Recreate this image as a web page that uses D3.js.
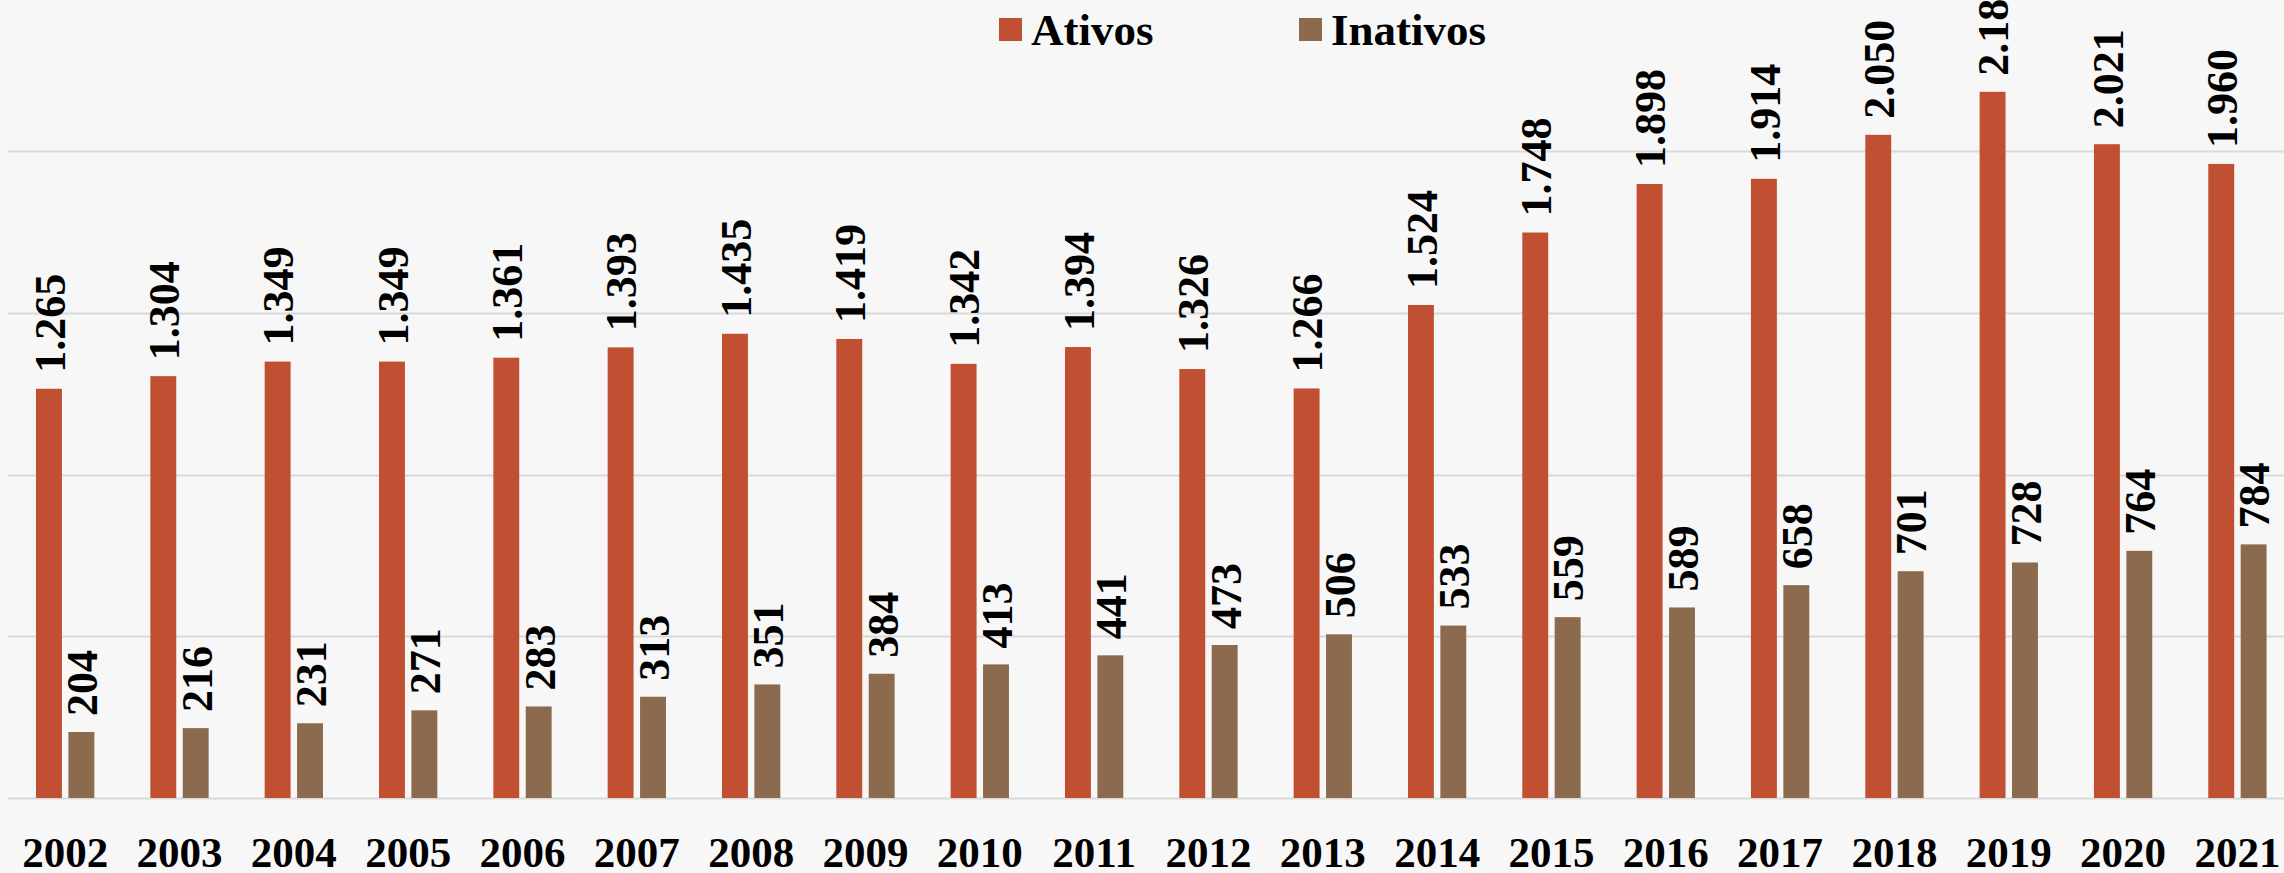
<!DOCTYPE html>
<html>
<head>
<meta charset="utf-8">
<script src="https://cdn.jsdelivr.net/npm/d3@7"></script>
<style>
  html, body { margin: 0; padding: 0; background: #f7f7f7; }
  svg { display: block; font-family: "Liberation Serif", "Times New Roman", serif; }
</style>
</head>
<body>
<svg width="2284" height="873"></svg>
<script>
var years = ["2002","2003","2004","2005","2006","2007","2008","2009","2010","2011",
             "2012","2013","2014","2015","2016","2017","2018","2019","2020","2021"];
var ativos = [1265,1304,1349,1349,1361,1393,1435,1419,1342,1394,
              1326,1266,1524,1748,1898,1914,2050,2183,2021,1960];
var inativos = [204,216,231,271,283,313,351,384,413,441,
                473,506,533,559,589,658,701,728,764,784];
var seriesNames = ["Ativos", "Inativos"];
var gridTicks = [0, 500, 1000, 1500, 2000];

var svg = d3.select("svg"),
    width = +svg.attr("width"),
    height = +svg.attr("height");

var color = d3.scaleOrdinal()
    .domain(seriesNames)
    .range(["#c14f31", "#8c6a4e"]);

// pt-BR style thousands: 1.265
var fmt = d3.formatLocale({decimal: ",", thousands: ".", grouping: [3], currency: ["R$", ""]}).format(",d");

var x = d3.scaleBand()
    .domain(years)
    .range([8, 2294.6])
    .paddingInner(0.49)
    .paddingOuter(0.245);

var xs = d3.scaleBand()
    .domain(seriesNames)
    .range([0, x.bandwidth()])
    .paddingInner(0.2);

var y = d3.scaleLinear()
    .domain([0, 2000])
    .range([798, 151]);

svg.append("rect")
    .attr("width", width)
    .attr("height", height)
    .attr("fill", "#f7f7f7");

// gridlines
svg.append("g")
    .selectAll("line")
    .data(gridTicks)
    .enter().append("line")
      .attr("x1", 8)
      .attr("x2", width)
      .attr("y1", function(d) { return Math.round(y(d)) + 0.5; })
      .attr("y2", function(d) { return Math.round(y(d)) + 0.5; })
      .attr("stroke", "#d9d9d9")
      .attr("stroke-width", 2);

var rows = years.map(function(yr, i) {
  return {year: yr, values: [
    {key: "Ativos", value: ativos[i]},
    {key: "Inativos", value: inativos[i]}
  ]};
});

var group = svg.selectAll(".year")
    .data(rows)
    .enter().append("g")
      .attr("class", "year")
      .attr("transform", function(d) { return "translate(" + x(d.year) + ",0)"; });

var bar = group.selectAll(".bar")
    .data(function(d) { return d.values; })
    .enter().append("g")
      .attr("class", "bar");

bar.append("rect")
    .attr("x", function(d) { return xs(d.key); })
    .attr("y", function(d) { return y(d.value); })
    .attr("width", xs.bandwidth())
    .attr("height", function(d) { return y(0) - y(d.value); })
    .attr("fill", function(d) { return color(d.key); });

bar.append("text")
    .attr("transform", function(d) {
      return "translate(" + (xs(d.key) + xs.bandwidth() / 2) + "," + (y(d.value) - 16) + ") rotate(-90)";
    })
    .attr("dy", "0.36em")
    .attr("text-anchor", "start")
    .attr("font-size", 44)
    .attr("font-weight", "bold")
    .attr("fill", "#000")
    .text(function(d) { return fmt(d.value); });

// year labels
svg.append("g")
    .selectAll("text")
    .data(years)
    .enter().append("text")
      .attr("x", function(d) { return x(d) + x.bandwidth() / 2; })
      .attr("y", 867)
      .attr("text-anchor", "middle")
      .attr("font-size", 43)
      .attr("font-weight", "bold")
      .attr("fill", "#000")
      .text(function(d) { return d; });

// legend
var legendX = [999, 1299];
var legend = svg.selectAll(".legend")
    .data(seriesNames)
    .enter().append("g")
      .attr("class", "legend")
      .attr("transform", function(d, i) { return "translate(" + legendX[i] + ",0)"; });

legend.append("rect")
    .attr("x", 0)
    .attr("y", 18)
    .attr("width", 23)
    .attr("height", 23)
    .attr("fill", function(d) { return color(d); });

legend.append("text")
    .attr("x", 32)
    .attr("y", 45)
    .attr("font-size", 45)
    .attr("font-weight", "bold")
    .attr("fill", "#000")
    .text(function(d) { return d; });
</script>
</body>
</html>
